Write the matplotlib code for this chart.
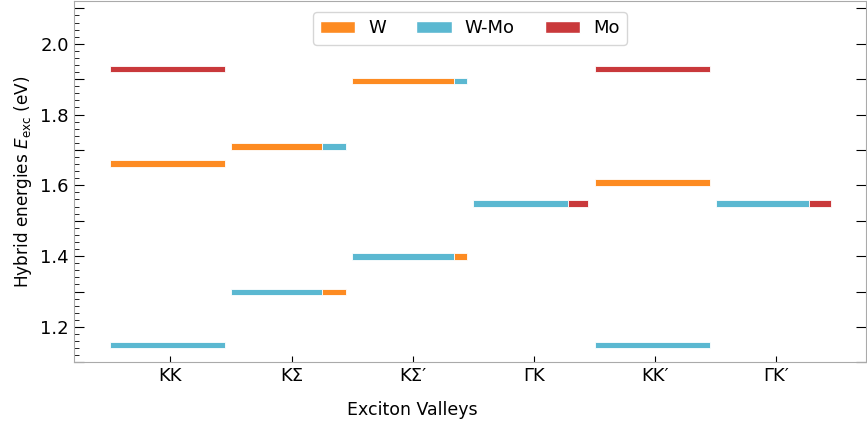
import numpy as np
import matplotlib
matplotlib.use('Agg')
import matplotlib.pyplot as plt
from matplotlib.patches import Patch
from matplotlib.ticker import MultipleLocator, FuncFormatter

# exciton valleys on the x axis
valleys = ['KK', 'KΣ', 'KΣ′', 'ΓK', 'KK′', 'ΓK′']

# hybrid states: valley index, energy (eV) and layer composition
state_valley = [0, 0, 0, 1, 1, 2, 2, 3, 4, 4, 4, 5]
state_energy = [1.929, 1.661, 1.149, 1.709, 1.299, 1.895, 1.398, 1.548, 1.929, 1.607, 1.149, 1.548]
frac_w = [0.0, 1.0, 0.0, 0.79, 0.21, 0.88, 0.12, 0.0, 0.0, 1.0, 0.0, 0.0]
frac_wmo = [0.0, 0.0, 1.0, 0.21, 0.79, 0.12, 0.88, 0.82, 0.0, 0.0, 1.0, 0.81]
frac_mo = [1.0, 0.0, 0.0, 0.0, 0.0, 0.0, 0.0, 0.18, 1.0, 0.0, 0.0, 0.19]

components = ['W', 'W-Mo', 'Mo']
colors = {'W': '#fd8b22', 'W-Mo': '#5bb8d1', 'Mo': '#c9393b'}

fig = plt.figure(figsize=(8.67, 4.25), dpi=100)
ax = fig.add_axes([0.0848, 0.1475, 0.914, 0.8495])

bar_w = 0.95
bar_h = 0.019
for i in range(len(state_energy)):
    fr = dict(zip(components, [frac_w[i], frac_wmo[i], frac_mo[i]]))
    # dominant contribution drawn first (left)
    order = sorted([c for c in components if fr[c] > 0], key=lambda c: -fr[c])
    left = state_valley[i] - 0.5
    for c in order:
        ax.barh(state_energy[i], fr[c] * bar_w, left=left, height=bar_h,
                color=colors[c], edgecolor='white', linewidth=0.6)
        left += fr[c] * bar_w

ax.set_xlim(-0.8, 5.74)
ax.set_ylim(1.1, 2.12)
ax.set_xticks(range(len(valleys)))
ax.set_xticklabels(valleys)

ax.yaxis.set_major_locator(MultipleLocator(0.1))
ax.yaxis.set_minor_locator(MultipleLocator(0.02))
ax.yaxis.set_major_formatter(FuncFormatter(
    lambda v, p: f'{v:.1f}' if abs(round(v * 10)) % 2 == 0 else ''))

ax.tick_params(axis='both', which='major', direction='in', labelsize=13, length=7, right=True)
ax.tick_params(axis='y', which='minor', direction='in', length=3.5)
ax.tick_params(axis='x', which='major', length=4)
for s in ax.spines.values():
    s.set_color('#aaaaaa')

ax.set_xlabel('Exciton Valleys', fontsize=12.5)
ax.xaxis.set_label_coords(0.428, -0.106)
ax.set_ylabel(r'Hybrid energies $E_{\rm exc}$ (eV)', fontsize=12.2)

handles = [Patch(facecolor=colors[c], edgecolor='white', label=c) for c in components]
ax.legend(handles=handles, loc='upper center', ncol=3, fontsize=13,
          handlelength=1.95, columnspacing=1.7, handletextpad=0.7, fancybox=True,
          borderaxespad=0.6)

fig.savefig('out.png', dpi=100)
